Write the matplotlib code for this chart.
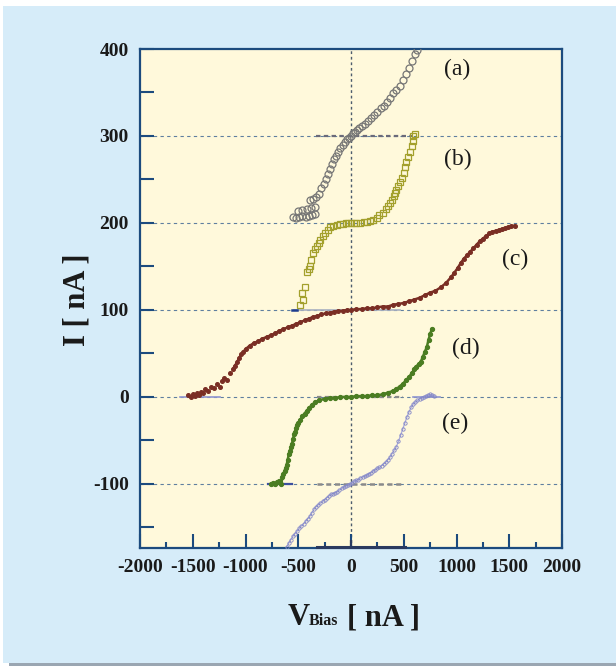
import matplotlib.pyplot as plt
from matplotlib.patches import Rectangle
import numpy as np

plt.rcParams['axes.unicode_minus'] = False

# curve (a) - gray open circles
a_v = [-550, -520, -490, -460, -430, -400, -370, -340, -500, -460, -420, -380, -340,
       -390, -360, -330, -300, -280, -260, -240, -220, -200, -180, -160, -140, -120,
       -100, -80, -60, -40, -20, 0, 20, 40, 60, 80, 100, 130, 160, 190, 220, 250, 280,
       310, 340, 370, 400, 430, 460, 490, 520, 550, 580, 610, 625]
a_i = [207, 206, 207, 208, 207, 208, 209, 210, 214, 215, 216, 217, 218,
       226, 228, 230, 233, 240, 245, 250, 256, 262, 268, 273, 277, 282,
       286, 290, 293, 296, 298, 300, 303, 305, 307, 309, 311, 314, 317, 321, 324, 328, 332,
       335, 339, 344, 349, 353, 358, 364, 371, 378, 386, 394, 399]

# curve (b) - olive open squares
b_v = [-483, -464, -455, -436, -417, -400, -389, -375, -360, -340, -322, -308, -294, -270,
       -246, -222, -200, -170, -133, -100, -76, -50, -25, 0, 25, 50, 85, 120, 150, 180, 210,
       246, 270, 303, 330, 350, 370, 389, 405, 417, 430, 445, 465, 483, 498, 512, 526, 540,
       560, 578, 585, 588, 610]
b_i = [106, 120, 112, 126, 144, 147, 150, 158, 166, 170, 173, 177, 181, 185,
       189, 192, 195, 197, 198, 199, 199, 200, 200, 200, 200, 200, 200, 201, 201, 202, 204,
       206, 209, 212, 216, 219, 223, 227, 231, 235, 238, 242, 247, 252, 258, 264, 270, 276,
       282, 288, 294, 300, 302]

# curve (c) - brown dots
c_v = [-1545, -1520, -1500, -1480, -1460, -1440, -1420, -1400, -1380, -1360, -1330, -1300,
       -1270, -1240, -1220, -1200, -1180, -1150, -1120, -1100, -1080, -1060, -1040, -1020,
       -1000, -960, -920, -880, -840, -800, -760, -720, -680, -640, -600, -560, -520, -480,
       -440, -400, -360, -320, -280, -240, -200, -160, -120, -80, -40, 0, 50, 100, 150, 200,
       250, 300, 350, 400, 450, 500, 550, 600, 650, 700, 750, 800, 850, 900, 950, 980, 1010,
       1040, 1070, 1100, 1130, 1160, 1190, 1220, 1250, 1280, 1310, 1340, 1370, 1400, 1430,
       1460, 1490, 1520, 1550]
c_i = [2, 0, 3, 1, 5, 2, 6, 4, 9, 7, 12, 10,
       15, 12, 18, 22, 20, 28, 32, 36, 40, 45, 49, 52,
       55, 59, 62, 64, 67, 69, 71, 73, 76, 78, 80, 82, 84, 86,
       88, 90, 92, 93, 95, 96, 97, 98, 99, 99, 100, 100, 101, 101, 102, 102,
       103, 104, 104, 106, 107, 108, 110, 112, 114, 117, 120, 122, 126, 131, 138, 143, 148,
       154, 159, 163, 167, 171, 175, 179, 182, 185, 188, 190, 191, 192, 193,
       194, 195, 196, 197]

# curve (d) - green dots
d_v = [-760, -740, -720, -700, -680, -660, -650, -640, -630, -620, -610, -600, -590, -580,
       -570, -560, -550, -540, -530, -520, -510, -500, -480, -460, -440, -420, -400, -370,
       -340, -300, -250, -200, -150, -100, -50, 0, 50, 100, 150, 200, 250, 300, 350, 400,
       430, 460, 490, 520, 550, 580, 600, 620, 640, 660, 680, 700, 720, 735, 750, 765]
d_i = [-100, -99, -100, -98, -97, -100, -92, -88, -85, -82, -78, -72, -66, -62,
       -58, -54, -48, -43, -40, -36, -32, -30, -26, -22, -19, -16, -13, -9,
       -6, -4, -2, -1, -1, 0, 0, 0, 1, 1, 1, 2, 2, 3, 5, 7,
       9, 12, 15, 19, 23, 28, 32, 35, 38, 40, 46, 52, 58, 66, 72, 78]

# curve (e) - lavender open circles
e_v = [-610, -590, -570, -550, -530, -510, -490, -470, -450, -430, -410, -390, -370, -350,
       -330, -310, -290, -270, -250, -230, -210, -190, -170, -150, -130, -110, -90, -70,
       -50, -30, -10, 10, 30, 50, 70, 90, 110, 130, 150, 170, 190, 210, 230, 250, 270, 290,
       310, 330, 350, 370, 390, 410, 430, 450, 470, 490, 510, 530, 550, 570, 590, 610, 630,
       650, 670, 690, 710, 730, 750, 770, 785]
e_i = [-172, -168, -164, -160, -157, -154, -151, -148, -146, -143, -140, -137, -133, -129,
       -126, -124, -122, -120, -118, -116, -114, -112, -111, -110, -109, -107, -105, -104,
       -102, -101, -100, -99, -97, -96, -95, -93, -92, -91, -90, -88, -87, -85, -84, -82, -81, -79,
       -77, -75, -72, -69, -65, -61, -57, -51, -44, -37, -30, -23, -17, -12, -8, -6, -4,
       -2, -1, 0, 1, 2, 3, 2, 1]

labels = ['(a)', '(b)', '(c)', '(d)', '(e)']
label_x = [1010, 1010, 1560, 1090, 985]
label_y = [377, 273, 158, 56, -31]

fig = plt.figure(figsize=(6.16, 6.66), dpi=100)
fig.patch.set_facecolor('white')
fig.patches.append(Rectangle((3/616, 1-663/666), 613/616, 657/666, transform=fig.transFigure,
                             facecolor='#d6ecf9', edgecolor='none', zorder=-5))
fig.patches.append(Rectangle((9/616, 0), 607/616, 3/666, transform=fig.transFigure,
                             facecolor='#9aa6b2', edgecolor='none', zorder=-5))

ax = fig.add_axes([140/616, 1-548/666, 422/616, 499/666])
ax.set_zorder(2)
ax.set_facecolor('#fff9db')
spine_c = '#1c4b7e'
for s in ax.spines.values():
    s.set_color(spine_c)
    s.set_linewidth(1.6)

ax.set_xlim(-2000, 2000)
ax.set_ylim(-173.6, 400)

# grid lines
for y in [300, 200, 100, 0, -100]:
    ax.axhline(y, color='#5f7f9f', lw=0.8, ls=(0, (3, 3)), zorder=1)
ax.axvline(0, color='#4d5d6d', lw=1.0, ls=(0, (2, 2)), zorder=1)

# baseline marks left on the plot
ax.plot([-330, 590], [300, 300], color='#6a6a7a', lw=1.6, ls=(0, (2, 1.5)), zorder=2)
ax.plot([-540, 460], [100, 100], color='#a8b0c0', lw=1.2, zorder=2)
ax.plot([-560, -510], [100, 100], color='#1c3c8e', lw=1.8, zorder=2)
ax.plot([-1620, -1240], [0, 0], color='#8f95d0', lw=1.2, zorder=2)
ax.plot([-320, 490], [0, 0], color='#8a8a8a', lw=1.6, ls=(0, (2, 1.5)), zorder=2)
ax.plot([590, 840], [0, 0], color='#8f95d0', lw=1.2, zorder=2)
ax.plot([-785, -560], [-100, -100], color='#3c50a0', lw=1.6, zorder=2)
ax.plot([-320, 490], [-100, -100], color='#8a8a8a', lw=1.8, ls=(0, (2, 1.5)), zorder=2)
ax.plot([-320, 510], [-172.5, -172.5], color='#2a3a60', lw=2.2, zorder=3, clip_on=False)
ax.vlines([-250, 250], -173.6, -170, color='#2a3a60', lw=1.2, zorder=3)
ax.vlines([0], -173.6, -164, color='#2a3a60', lw=1.6, zorder=3)

# curves
ax.plot(a_v, a_i, 'o', ms=5, mfc='none', mec='#767676', mew=0.9, zorder=4)
ax.plot(b_v, b_i, 's', ms=4.5, mfc='none', mec='#a3a02c', mew=0.9, zorder=4)
ax.plot(c_v[18:], c_i[18:], '-', color='#7a2e24', lw=1.8, zorder=4)
ax.plot(c_v, c_i, 'o', ms=2.6, color='#7a2e24', zorder=4)
ax.plot(d_v, d_i, '-', color='#4b7d22', lw=1.8, zorder=4)
ax.plot(d_v, d_i, 'o', ms=2.8, color='#4b7d22', zorder=4)
ax.plot(e_v, e_i, '-', color='#a8aadc', lw=0.9, zorder=4)
ax.plot(e_v, e_i, 'o', ms=2.4, mfc='none', mec='#8084c6', mew=0.6, zorder=4)

for lab, lx, ly in zip(labels, label_x, label_y):
    ax.text(lx, ly, lab, fontsize=17, family='Liberation Serif', ha='center', va='center',
            color='#1a1a1a', zorder=5)

# ticks
ax.set_xticks(np.arange(-2000, 2001, 500))
ax.set_xticks(np.arange(-1750, 2000, 500), minor=True)
ax.set_yticks(np.arange(-100, 401, 100))
ax.set_yticks(np.arange(-150, 400, 100), minor=True)
ax.tick_params(which='major', direction='in', length=10, width=1.5, color=spine_c,
               pad=8, top=False, right=False)
ax.tick_params(axis='x', which='minor', direction='in', length=4, width=1.5, color=spine_c,
               top=False)
ax.tick_params(axis='y', which='minor', direction='in', length=10, width=1.5, color=spine_c,
               right=False)
for t in ax.get_xticklabels() + ax.get_yticklabels():
    t.set_fontfamily('Liberation Serif')
    t.set_fontweight('bold')
    t.set_fontsize(14)
    t.set_color('#1a1a1a')

# axis titles
fig.text(77/616, 1-300/666, 'I [ nA ]', rotation=90, ha='center', va='center',
         fontsize=22, fontweight='bold', family='Liberation Serif', color='#1a1a1a')
fig.text(288/616, 1-625/666, 'V', ha='left', va='baseline', fontsize=22,
         fontweight='bold', family='Liberation Serif', color='#1a1a1a')
fig.text(309/616, 1-625/666, 'Bias', ha='left', va='baseline', fontsize=11.5,
         fontweight='bold', family='Liberation Serif', color='#1a1a1a')
fig.text(347/616, 1-625/666, '[ nA ]', ha='left', va='baseline', fontsize=22,
         fontweight='bold', family='Liberation Serif', color='#1a1a1a')

fig.savefig('out.png', dpi=100, facecolor=fig.get_facecolor())
